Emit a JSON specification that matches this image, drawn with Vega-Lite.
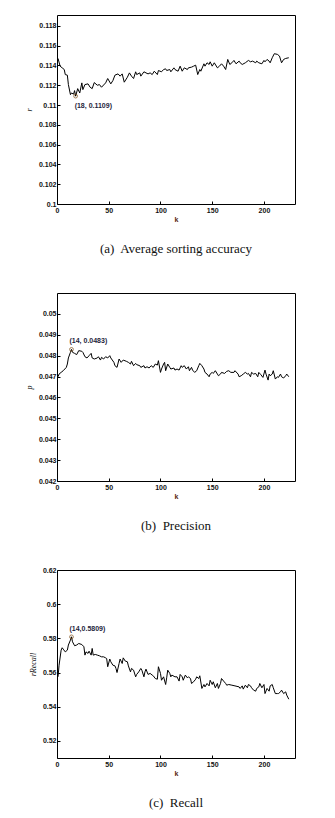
{
"$schema": "https://vega.github.io/schema/vega-lite/v6.json",
"background": "white",
"padding": {"left": 24, "top": 14, "right": 5, "bottom": 5},
"datasets": {
"a": [{"k":1,"v":0.11471},{"k":3,"v":0.11393},{"k":5,"v":0.11376},{"k":7,"v":0.11359},{"k":8,"v":0.11308},{"k":10,"v":0.11302},{"k":11,"v":0.11207},{"k":13,"v":0.11105},{"k":14,"v":0.11122},{"k":16,"v":0.1111},{"k":17,"v":0.11146},{"k":18,"v":0.1109},{"k":20,"v":0.11166},{"k":22,"v":0.11122},{"k":24,"v":0.11224},{"k":25,"v":0.11156},{"k":27,"v":0.11207},{"k":30,"v":0.11214},{"k":32,"v":0.1118},{"k":34,"v":0.11166},{"k":36,"v":0.11227},{"k":39,"v":0.112},{"k":41,"v":0.11207},{"k":43,"v":0.1118},{"k":47,"v":0.11224},{"k":49,"v":0.11268},{"k":52,"v":0.11214},{"k":54,"v":0.11247},{"k":56,"v":0.11302},{"k":59,"v":0.11315},{"k":61,"v":0.11292},{"k":63,"v":0.11315},{"k":65,"v":0.11231},{"k":68,"v":0.11281},{"k":70,"v":0.11325},{"k":72,"v":0.11292},{"k":74,"v":0.11268},{"k":76,"v":0.11336},{"k":77,"v":0.11308},{"k":80,"v":0.11325},{"k":81,"v":0.11292},{"k":84,"v":0.11336},{"k":86,"v":0.11325},{"k":88,"v":0.11315},{"k":90,"v":0.11325},{"k":92,"v":0.11308},{"k":94,"v":0.11342},{"k":97,"v":0.11308},{"k":98,"v":0.11349},{"k":101,"v":0.11336},{"k":103,"v":0.11359},{"k":105,"v":0.11366},{"k":106,"v":0.11349},{"k":109,"v":0.11359},{"k":110,"v":0.11336},{"k":113,"v":0.11376},{"k":114,"v":0.11359},{"k":117,"v":0.11342},{"k":119,"v":0.11393},{"k":121,"v":0.11342},{"k":123,"v":0.11376},{"k":126,"v":0.11359},{"k":127,"v":0.11376},{"k":130,"v":0.11383},{"k":132,"v":0.11393},{"k":134,"v":0.11403},{"k":136,"v":0.11308},{"k":138,"v":0.11359},{"k":139,"v":0.11342},{"k":142,"v":0.11417},{"k":143,"v":0.11393},{"k":145,"v":0.11427},{"k":147,"v":0.1141},{"k":148,"v":0.11437},{"k":150,"v":0.11393},{"k":152,"v":0.11427},{"k":155,"v":0.11376},{"k":157,"v":0.11393},{"k":159,"v":0.11417},{"k":161,"v":0.11393},{"k":163,"v":0.11359},{"k":165,"v":0.11461},{"k":167,"v":0.1141},{"k":169,"v":0.11427},{"k":171,"v":0.11451},{"k":173,"v":0.11417},{"k":176,"v":0.11444},{"k":177,"v":0.11427},{"k":179,"v":0.1141},{"k":182,"v":0.11427},{"k":185,"v":0.11451},{"k":187,"v":0.11437},{"k":189,"v":0.11444},{"k":192,"v":0.11427},{"k":193,"v":0.11444},{"k":195,"v":0.11427},{"k":198,"v":0.11417},{"k":200,"v":0.11451},{"k":201,"v":0.11437},{"k":203,"v":0.11461},{"k":205,"v":0.11444},{"k":206,"v":0.11427},{"k":208,"v":0.11478},{"k":210,"v":0.11519},{"k":213,"v":0.11512},{"k":215,"v":0.11495},{"k":217,"v":0.11427},{"k":219,"v":0.11461},{"k":221,"v":0.11471},{"k":224,"v":0.11478}],
"b": [{"k":1,"v":0.04699},{"k":2,"v":0.04712},{"k":4,"v":0.0472},{"k":6,"v":0.04728},{"k":9,"v":0.04744},{"k":10,"v":0.0476},{"k":11,"v":0.04789},{"k":13,"v":0.04816},{"k":14,"v":0.0483},{"k":15,"v":0.04816},{"k":17,"v":0.04811},{"k":19,"v":0.04805},{"k":21,"v":0.04824},{"k":24,"v":0.04821},{"k":25,"v":0.04816},{"k":27,"v":0.04795},{"k":29,"v":0.04789},{"k":31,"v":0.048},{"k":33,"v":0.04811},{"k":34,"v":0.04789},{"k":36,"v":0.04784},{"k":39,"v":0.04789},{"k":40,"v":0.04795},{"k":42,"v":0.04779},{"k":43,"v":0.04792},{"k":45,"v":0.04784},{"k":47,"v":0.04795},{"k":49,"v":0.04789},{"k":51,"v":0.048},{"k":52,"v":0.04789},{"k":55,"v":0.04768},{"k":56,"v":0.04752},{"k":58,"v":0.04744},{"k":60,"v":0.04784},{"k":62,"v":0.04768},{"k":64,"v":0.04779},{"k":67,"v":0.04773},{"k":69,"v":0.04768},{"k":71,"v":0.0476},{"k":72,"v":0.04773},{"k":74,"v":0.04752},{"k":76,"v":0.04763},{"k":77,"v":0.04757},{"k":80,"v":0.04752},{"k":81,"v":0.04744},{"k":84,"v":0.04752},{"k":85,"v":0.04741},{"k":87,"v":0.04747},{"k":89,"v":0.04741},{"k":91,"v":0.04752},{"k":93,"v":0.04744},{"k":95,"v":0.0476},{"k":97,"v":0.04755},{"k":98,"v":0.04776},{"k":100,"v":0.0472},{"k":101,"v":0.04736},{"k":103,"v":0.0476},{"k":104,"v":0.04768},{"k":105,"v":0.04728},{"k":107,"v":0.0476},{"k":109,"v":0.04744},{"k":110,"v":0.04736},{"k":113,"v":0.04741},{"k":114,"v":0.04731},{"k":116,"v":0.04736},{"k":118,"v":0.04731},{"k":120,"v":0.04752},{"k":121,"v":0.04744},{"k":123,"v":0.04752},{"k":125,"v":0.04736},{"k":127,"v":0.04747},{"k":128,"v":0.04728},{"k":130,"v":0.04744},{"k":131,"v":0.04731},{"k":133,"v":0.0472},{"k":135,"v":0.04728},{"k":137,"v":0.04752},{"k":138,"v":0.04763},{"k":140,"v":0.04752},{"k":142,"v":0.04736},{"k":143,"v":0.0472},{"k":145,"v":0.04712},{"k":147,"v":0.04699},{"k":148,"v":0.04712},{"k":150,"v":0.0472},{"k":151,"v":0.04715},{"k":153,"v":0.04728},{"k":155,"v":0.04712},{"k":156,"v":0.04704},{"k":158,"v":0.04712},{"k":159,"v":0.0472},{"k":162,"v":0.04715},{"k":164,"v":0.04725},{"k":166,"v":0.04728},{"k":168,"v":0.0472},{"k":171,"v":0.0472},{"k":172,"v":0.04728},{"k":175,"v":0.04712},{"k":176,"v":0.04699},{"k":178,"v":0.04704},{"k":180,"v":0.04712},{"k":182,"v":0.0472},{"k":184,"v":0.04712},{"k":185,"v":0.04715},{"k":187,"v":0.04699},{"k":188,"v":0.0472},{"k":190,"v":0.04712},{"k":192,"v":0.04715},{"k":194,"v":0.04699},{"k":195,"v":0.0472},{"k":197,"v":0.04709},{"k":199,"v":0.04696},{"k":201,"v":0.04731},{"k":202,"v":0.04712},{"k":204,"v":0.04683},{"k":205,"v":0.04712},{"k":206,"v":0.04704},{"k":208,"v":0.04712},{"k":209,"v":0.04728},{"k":211,"v":0.04688},{"k":213,"v":0.04699},{"k":214,"v":0.04696},{"k":216,"v":0.04712},{"k":217,"v":0.04699},{"k":219,"v":0.04693},{"k":221,"v":0.04704},{"k":222,"v":0.04712},{"k":224,"v":0.04699}],
"c": [{"k":1,"v":0.5575},{"k":2,"v":0.5643},{"k":4,"v":0.5731},{"k":5,"v":0.5745},{"k":6,"v":0.5737},{"k":8,"v":0.5721},{"k":10,"v":0.5731},{"k":11,"v":0.5761},{"k":13,"v":0.579},{"k":14,"v":0.5809},{"k":15,"v":0.578},{"k":17,"v":0.5757},{"k":19,"v":0.5761},{"k":21,"v":0.577},{"k":24,"v":0.5764},{"k":26,"v":0.5751},{"k":27,"v":0.5702},{"k":28,"v":0.5721},{"k":30,"v":0.5712},{"k":31,"v":0.5725},{"k":33,"v":0.5702},{"k":34,"v":0.5741},{"k":35,"v":0.5702},{"k":37,"v":0.5706},{"k":39,"v":0.5702},{"k":41,"v":0.5698},{"k":43,"v":0.5692},{"k":45,"v":0.5692},{"k":47,"v":0.5686},{"k":48,"v":0.5682},{"k":49,"v":0.5634},{"k":51,"v":0.5679},{"k":52,"v":0.5663},{"k":54,"v":0.5643},{"k":56,"v":0.5639},{"k":57,"v":0.5624},{"k":58,"v":0.56},{"k":60,"v":0.5653},{"k":61,"v":0.5679},{"k":63,"v":0.5653},{"k":64,"v":0.5686},{"k":66,"v":0.5667},{"k":68,"v":0.5663},{"k":69,"v":0.5639},{"k":71,"v":0.5604},{"k":72,"v":0.5624},{"k":74,"v":0.5614},{"k":76,"v":0.5575},{"k":77,"v":0.5589},{"k":79,"v":0.5604},{"k":81,"v":0.5624},{"k":82,"v":0.5614},{"k":84,"v":0.5575},{"k":85,"v":0.5604},{"k":86,"v":0.562},{"k":88,"v":0.5589},{"k":90,"v":0.5595},{"k":92,"v":0.5585},{"k":93,"v":0.5581},{"k":95,"v":0.5565},{"k":97,"v":0.5561},{"k":98,"v":0.5634},{"k":100,"v":0.5595},{"k":101,"v":0.5555},{"k":103,"v":0.5575},{"k":105,"v":0.553},{"k":106,"v":0.5569},{"k":107,"v":0.5614},{"k":109,"v":0.5595},{"k":110,"v":0.5575},{"k":111,"v":0.5585},{"k":114,"v":0.5575},{"k":116,"v":0.5575},{"k":118,"v":0.555},{"k":119,"v":0.5589},{"k":121,"v":0.5575},{"k":122,"v":0.5555},{"k":124,"v":0.5585},{"k":126,"v":0.5569},{"k":127,"v":0.5575},{"k":129,"v":0.5565},{"k":130,"v":0.5536},{"k":132,"v":0.5546},{"k":134,"v":0.5561},{"k":135,"v":0.5575},{"k":137,"v":0.5565},{"k":138,"v":0.5581},{"k":140,"v":0.5507},{"k":142,"v":0.553},{"k":143,"v":0.5516},{"k":145,"v":0.5536},{"k":147,"v":0.5522},{"k":148,"v":0.5555},{"k":150,"v":0.553},{"k":151,"v":0.5546},{"k":153,"v":0.5511},{"k":155,"v":0.5536},{"k":156,"v":0.5507},{"k":158,"v":0.5536},{"k":159,"v":0.5565},{"k":161,"v":0.555},{"k":163,"v":0.5536},{"k":164,"v":0.5526},{"k":166,"v":0.553},{"k":169,"v":0.5526},{"k":172,"v":0.5522},{"k":176,"v":0.5516},{"k":177,"v":0.5507},{"k":179,"v":0.5522},{"k":180,"v":0.5503},{"k":182,"v":0.5526},{"k":184,"v":0.5511},{"k":185,"v":0.553},{"k":187,"v":0.5522},{"k":188,"v":0.5511},{"k":190,"v":0.5497},{"k":192,"v":0.5491},{"k":193,"v":0.5507},{"k":195,"v":0.5516},{"k":196,"v":0.5536},{"k":198,"v":0.5511},{"k":200,"v":0.553},{"k":201,"v":0.5477},{"k":203,"v":0.5507},{"k":205,"v":0.5491},{"k":206,"v":0.5522},{"k":208,"v":0.553},{"k":209,"v":0.5511},{"k":211,"v":0.5477},{"k":213,"v":0.5477},{"k":214,"v":0.5477},{"k":216,"v":0.5487},{"k":217,"v":0.5497},{"k":219,"v":0.5477},{"k":221,"v":0.5487},{"k":222,"v":0.5468},{"k":224,"v":0.5444}],
"pa": [{"k":18,"v":0.1109,"label":"(18, 0.1109)"}],
"pb": [{"k":14,"v":0.0483,"label":"(14, 0.0483)"}],
"pc": [{"k":14,"v":0.5809,"label":"(14,0.5809)"}]
},
"spacing": 89,
"bounds": "flush",
"vconcat": [
{
"width": 238, "height": 189,
"title": {"text": "(a)\u00a0 Average sorting accuracy", "orient": "bottom"},
"layer": [
{"data": {"name": "a"}, "mark": {"type": "line", "color": "black", "strokeWidth": 1},
 "encoding": {
  "x": {"field": "k", "type": "quantitative", "scale": {"domain": [0, 230], "nice": false}, "axis": {"values": [0, 50, 100, 150, 200], "title": "k", "tickCount": 20}},
  "y": {"field": "v", "type": "quantitative", "scale": {"domain": [0.1, 0.1191], "nice": false, "zero": false}, "axis": {"values": [0.1, 0.102, 0.104, 0.106, 0.108, 0.11, 0.112, 0.114, 0.116, 0.118], "format": "~g", "title": "r", "tickCount": 20}}}},
{"data": {"name": "pa"}, "mark": {"type": "point", "shape": "circle", "filled": false, "color": "#7a4a10", "size": 14, "strokeWidth": 1},
 "encoding": {"x": {"field": "k", "type": "quantitative"}, "y": {"field": "v", "type": "quantitative"}}},
{"data": {"name": "pa"}, "mark": {"type": "text", "align": "left", "baseline": "middle", "dx": -1, "dy": 10, "font": "Liberation Sans", "fontSize": 7, "fontWeight": "bold", "color": "#1e1e3c"},
 "encoding": {"x": {"field": "k", "type": "quantitative"}, "y": {"field": "v", "type": "quantitative"}, "text": {"field": "label"}}}
]
},
{
"width": 238, "height": 188,
"title": {"text": "(b)\u00a0 Precision", "orient": "bottom"},
"layer": [
{"data": {"name": "b"}, "mark": {"type": "line", "color": "black", "strokeWidth": 1},
 "encoding": {
  "x": {"field": "k", "type": "quantitative", "scale": {"domain": [0, 230], "nice": false}, "axis": {"values": [0, 50, 100, 150, 200], "title": "k", "tickCount": 20}},
  "y": {"field": "v", "type": "quantitative", "scale": {"domain": [0.042, 0.051], "nice": false, "zero": false}, "axis": {"values": [0.042, 0.043, 0.044, 0.045, 0.046, 0.047, 0.048, 0.049, 0.05], "format": "~g", "title": "p", "tickCount": 20}}}},
{"data": {"name": "pb"}, "mark": {"type": "point", "shape": "circle", "filled": false, "color": "#7a4a10", "size": 14, "strokeWidth": 1},
 "encoding": {"x": {"field": "k", "type": "quantitative"}, "y": {"field": "v", "type": "quantitative"}}},
{"data": {"name": "pb"}, "mark": {"type": "text", "align": "left", "baseline": "middle", "dx": -2, "dy": -8, "font": "Liberation Sans", "fontSize": 7, "fontWeight": "bold", "color": "#1e1e3c"},
 "encoding": {"x": {"field": "k", "type": "quantitative"}, "y": {"field": "v", "type": "quantitative"}, "text": {"field": "label"}}}
]
},
{
"width": 238, "height": 188,
"title": {"text": "(c)\u00a0 Recall", "orient": "bottom"},
"layer": [
{"data": {"name": "c"}, "mark": {"type": "line", "color": "black", "strokeWidth": 1},
 "encoding": {
  "x": {"field": "k", "type": "quantitative", "scale": {"domain": [0, 230], "nice": false}, "axis": {"values": [0, 50, 100, 150, 200], "title": "k", "tickCount": 20}},
  "y": {"field": "v", "type": "quantitative", "scale": {"domain": [0.51, 0.62], "nice": false, "zero": false}, "axis": {"values": [0.52, 0.54, 0.56, 0.58, 0.6, 0.62], "format": "~g", "title": "rRecall", "tickCount": 20}}}},
{"data": {"name": "pc"}, "mark": {"type": "point", "shape": "circle", "filled": false, "color": "#7a4a10", "size": 14, "strokeWidth": 1},
 "encoding": {"x": {"field": "k", "type": "quantitative"}, "y": {"field": "v", "type": "quantitative"}}},
{"data": {"name": "pc"}, "mark": {"type": "text", "align": "left", "baseline": "middle", "dx": -2, "dy": -8, "font": "Liberation Sans", "fontSize": 7, "fontWeight": "bold", "color": "#1e1e3c"},
 "encoding": {"x": {"field": "k", "type": "quantitative"}, "y": {"field": "v", "type": "quantitative"}, "text": {"field": "label"}}}
]
}
],
"config": {
 "view": {"stroke": "black", "strokeWidth": 1},
 "axis": {"labelFont": "Liberation Sans", "labelFontSize": 7, "labelFontWeight": "bold", "labelColor": "#111111", "labelOverlap": false, "labelFlush": false, "domain": false, "grid": false, "tickColor": "black", "tickSize": -3, "labelPadding": 3, "titleFont": "Liberation Serif", "titleFontSize": 8, "titleFontStyle": "italic", "titleFontWeight": "normal", "titleColor": "#111111"},
 "axisX": {"titleFont": "Liberation Sans", "titleFontStyle": "normal", "titleFontWeight": "bold", "titleColor": "#5a2a10", "titleFontSize": 7, "titlePadding": 2, "labelPadding": 5},
 "axisY": {"titlePadding": 5, "labelPadding": 4},
 "title": {"font": "Liberation Serif", "fontSize": 13, "fontWeight": "normal", "color": "#111111", "offset": 21}
}
}
